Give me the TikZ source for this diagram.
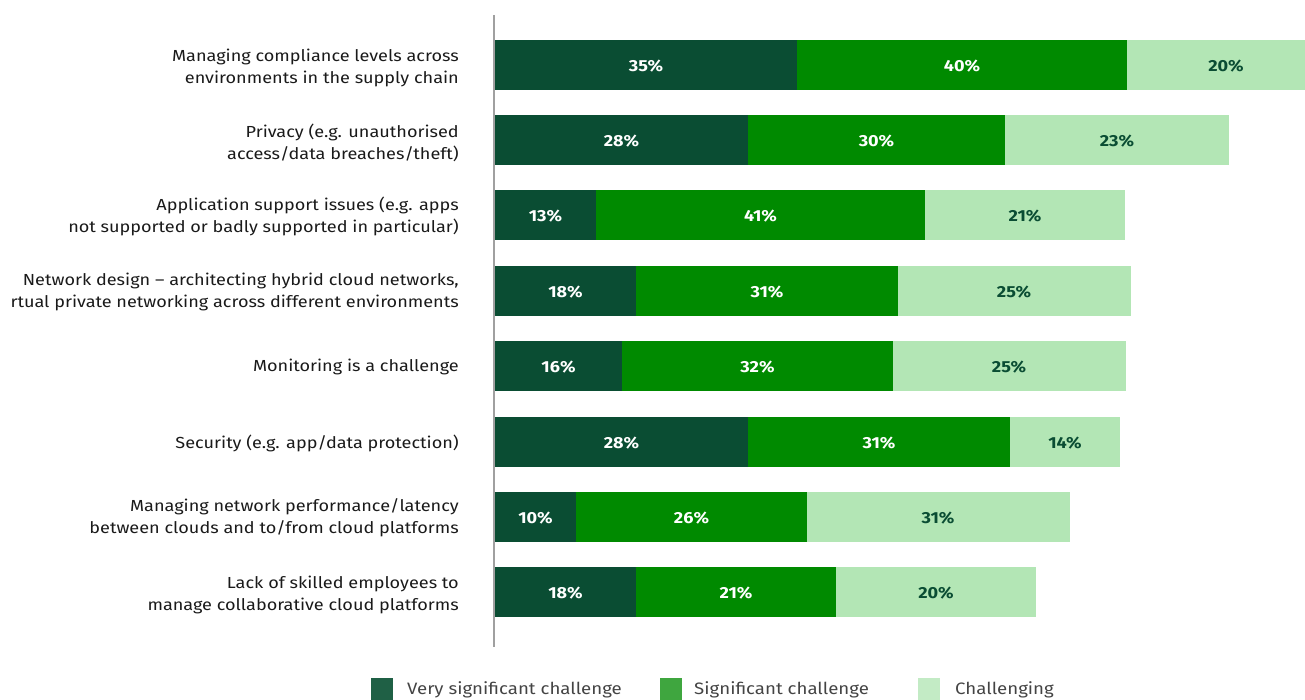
\documentclass[tikz,border=0pt]{standalone}
\usepackage{fontspec}
\setmainfont[FakeStretch=1.13]{Fira Sans}
\definecolor{vsig}{HTML}{0A4D33}
\definecolor{sig}{HTML}{008A00}
\definecolor{chal}{HTML}{B3E6B5}
\definecolor{lvsig}{HTML}{1F6045}
\definecolor{lsig}{HTML}{3FA63F}
\definecolor{lchal}{HTML}{C3EBC5}
\definecolor{axisgray}{HTML}{A0A0A0}
\definecolor{txt}{HTML}{1A1A1A}
\definecolor{legtxt}{HTML}{444444}
\begin{document}
\begin{tikzpicture}[x=1pt,y=-1pt,
  cat/.style={anchor=east,align=right,font=\fontsize{16}{22}\selectfont,text=txt,inner sep=0pt},
  pctw/.style={font=\fontsize{16}{18}\selectfont\bfseries,text=white},
  pctd/.style={font=\fontsize{16}{18}\selectfont\bfseries,text=vsig},
  legtext/.style={anchor=west,font=\fontsize{16.5}{20}\selectfont,text=legtxt,inner sep=0pt}]
\useasboundingbox (0,0) rectangle (1305,700);
\clip (0,0) rectangle (1305,700);
% bars: y-center, x-boundaries, values
\foreach \n/\yc/\a/\b/\c/\va/\vb in {
  1/65/797/1127/1310/35/40,
  2/140/748/1005/1229/28/30,
  3/215/596/925/1125/13/41,
  4/291/636/898/1131/18/31,
  5/366/622/893/1126/16/32,
  6/442/748/1010/1120/28/31,
  7/517/576/807/1070/10/26,
  8/592/636/836/1036/18/21}{
  \fill[vsig] (495,\yc-25) rectangle (\a,\yc+25);
  \fill[sig] (\a,\yc-25) rectangle (\b,\yc+25);
  \fill[chal] (\b,\yc-25) rectangle (\c,\yc+25);
  \node[pctw] (v\n a) at ({(495+\a)/2},\yc+1) {\va\%};
  \node[pctw] (v\n b) at ({(\a+\b)/2},\yc+1) {\vb\%};
}
\node[pctd] (v1c) at (1226,66) {20\%};
\node[pctd] (v2c) at (1117,141) {23\%};
\node[pctd] (v3c) at (1025,216) {21\%};
\node[pctd] (v4c) at (1014,292) {25\%};
\node[pctd] (v5c) at (1009,367) {25\%};
\node[pctd] (v6c) at (1065,443) {14\%};
\node[pctd] (v7c) at (938,518) {31\%};
\node[pctd] (v8c) at (936,593) {20\%};
% axis
\draw[axisgray,line width=1.2pt] (494,15) -- (494,647);
% category labels
\node[cat] (c1) at (459,68) {Managing compliance levels across\\environments in the supply chain};
\node[cat] (c2) at (459,143) {Privacy (e.g. unauthorised\\access/data breaches/theft)};
\node[cat] (c3) at (459,216) {Application support issues (e.g. apps\\not supported or badly supported in particular)};
\node[cat] (c4) at (459,292) {Network design -- architecting hybrid cloud networks,\\rtual private networking across different environments};
\node[cat] (c5) at (459,367) {Monitoring is a challenge};
\node[cat] (c6) at (459,443) {Security (e.g. app/data protection)};
\node[cat] (c7) at (459,518) {Managing network performance/latency\\between clouds and to/from cloud platforms};
\node[cat] (c8) at (459,595) {Lack of skilled employees to\\manage collaborative cloud platforms};
% legend
\fill[lvsig] (371,678) rectangle (393,700);
\node[legtext] (l1) at (407,690) {Very significant challenge};
\fill[lsig] (660,678) rectangle (682,700);
\node[legtext] (l2) at (694,690) {Significant challenge};
\fill[lchal] (918,678) rectangle (940,700);
\node[legtext] (l3) at (955,690) {Challenging};
\end{tikzpicture}
\end{document}
